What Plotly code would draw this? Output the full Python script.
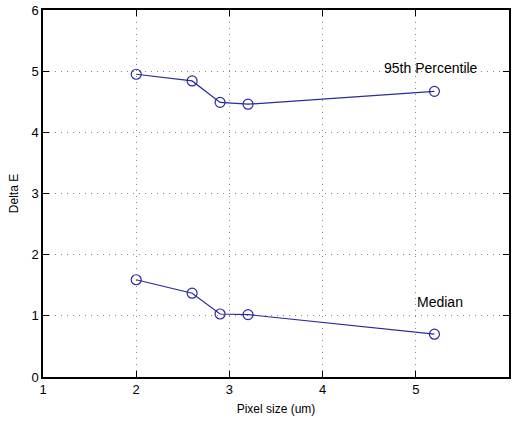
import plotly.graph_objects as go

pixel_size = [2.0, 2.6, 2.9, 3.2, 5.2]
p95 = [4.95, 4.84, 4.49, 4.46, 4.67]
median = [1.59, 1.37, 1.03, 1.02, 0.70]

x_ticks = [1, 2, 3, 4, 5]
y_ticks = [0, 1, 2, 3, 4, 5, 6]

line_color = "#2a2a9c"
font_fam = "Liberation Sans, Arial, sans-serif"

fig = go.Figure()
for name, ys in [("95th Percentile", p95), ("Median", median)]:
    fig.add_trace(go.Scatter(
        x=pixel_size, y=ys, mode="lines+markers", name=name,
        line=dict(color=line_color, width=1.2),
        marker=dict(symbol="circle-open", size=10, color=line_color, line=dict(width=1.2)),
        showlegend=False,
    ))

fig.add_annotation(x=5.16, y=5.05, text="95th Percentile", showarrow=False,
                   font=dict(size=14, color="black", family=font_fam))
fig.add_annotation(x=5.26, y=1.22, text="Median", showarrow=False,
                   font=dict(size=14, color="black", family=font_fam))

axis_common = dict(
    showline=True, linecolor="black", linewidth=1.5, mirror="ticks",
    ticks="inside", ticklen=6, tickcolor="black",
    showgrid=True, gridcolor="#888888", griddash="1px,5px", gridwidth=1,
    zeroline=False, tickfont=dict(size=13, color="black", family=font_fam),
)

fig.update_xaxes(range=[1, 6], tickvals=x_ticks,
                 title=dict(text="Pixel size (um)", font=dict(size=12, color="black", family=font_fam), standoff=8),
                 **axis_common)
fig.update_yaxes(range=[0, 6], tickvals=y_ticks,
                 title=dict(text="Delta E", font=dict(size=12, color="black", family=font_fam), standoff=10),
                 **axis_common)

fig.update_layout(
    width=513, height=424,
    margin=dict(l=43, r=2, t=10, b=47),
    paper_bgcolor="white", plot_bgcolor="white",
    font=dict(family=font_fam, color="black"),
)

fig.write_html("out.html")
